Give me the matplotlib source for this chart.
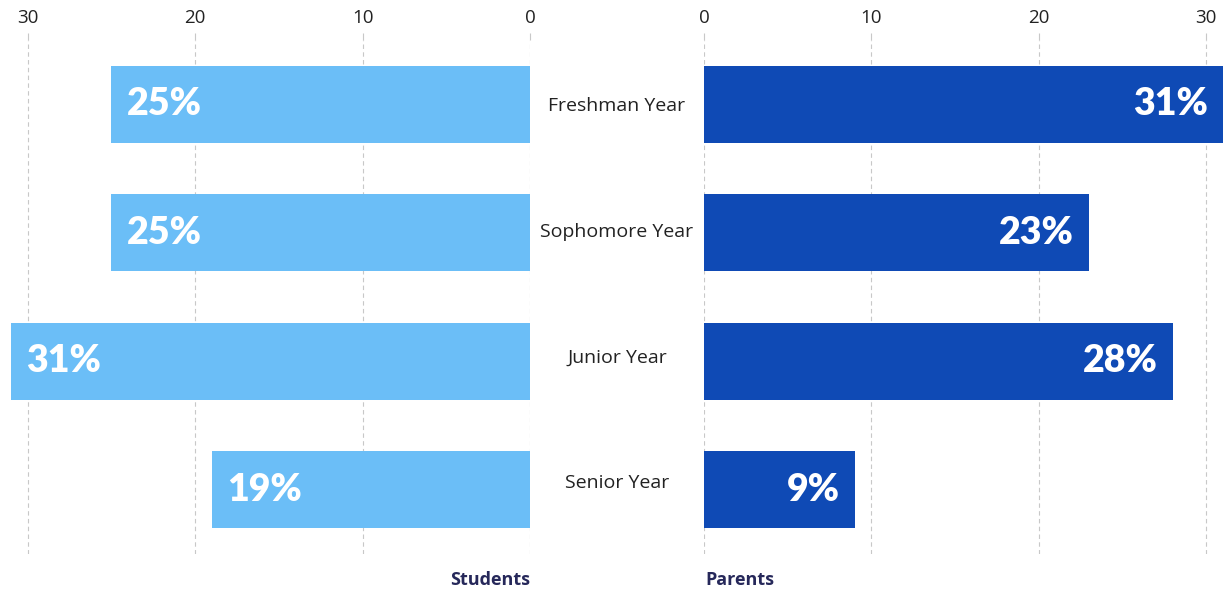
import matplotlib.pyplot as plt
import matplotlib.transforms as mtransforms

# -----------------------
# Data
# -----------------------
years = ["Freshman Year", "Sophomore Year", "Junior Year", "Senior Year"]
students = [25, 25, 31, 19]
parents = [31, 23, 28, 9]
ticks = [0, 10, 20, 30]

light_blue = "#6bbef7"
dark_blue = "#0f4ab5"
grid_col = "#c8c8c8"
plt.rcParams['font.family'] = ['Open Sans', 'DejaVu Sans']

fig = plt.figure(figsize=(12.23, 5.9), dpi=100)
ax_l = fig.add_axes([11 / 1223, 36 / 590, 519 / 1223, 514 / 590])
ax_r = fig.add_axes([704 / 1223, 36 / 590, 519 / 1223, 514 / 590])

ypos = list(range(len(years)))

for ax, vals, col, side in [(ax_l, students, light_blue, "left"),
                            (ax_r, parents, dark_blue, "right")]:
    ax.barh(ypos, vals, height=0.6, color=col, zorder=2)
    ax.set_ylim(len(years) - 0.5, -0.5)
    ax.set_xlim(0, 31)
    ax.set_xticks(ticks)
    ax.xaxis.tick_top()
    ax.tick_params(axis='x', length=5, color=grid_col, labelsize=13.5,
                   labelcolor="#222222", pad=4.5)
    ax.set_yticks([])
    ax.grid(axis='x', color=grid_col, linestyle=(0, (4, 3)), linewidth=0.8, zorder=0)
    for s in ax.spines.values():
        s.set_visible(False)
    for y, v in zip(ypos, vals):
        ax.text(v - 0.9, y, f"{v}%", ha=side, va='center', color='white',
                fontsize=27, fontweight='heavy', family=['Lato', 'DejaVu Sans'],
                zorder=3)

ax_l.invert_xaxis()

# category labels in the gap between the two panels
trans = mtransforms.blended_transform_factory(fig.transFigure, ax_l.transData)
for y, name in zip(ypos, years):
    fig.text(617 / 1223, y + 0.015 - 0.022 * y, name, transform=trans,
             ha='center', va='center', fontsize=14, color="#222222")

fig.text(530 / 1223, 1 - 580 / 590, "Students", ha='right', va='center',
         fontsize=13, fontweight='bold', color="#26285a")
fig.text(705 / 1223, 1 - 580 / 590, "Parents", ha='left', va='center',
         fontsize=13, fontweight='bold', color="#26285a")

fig.savefig("out.png", dpi=100)
